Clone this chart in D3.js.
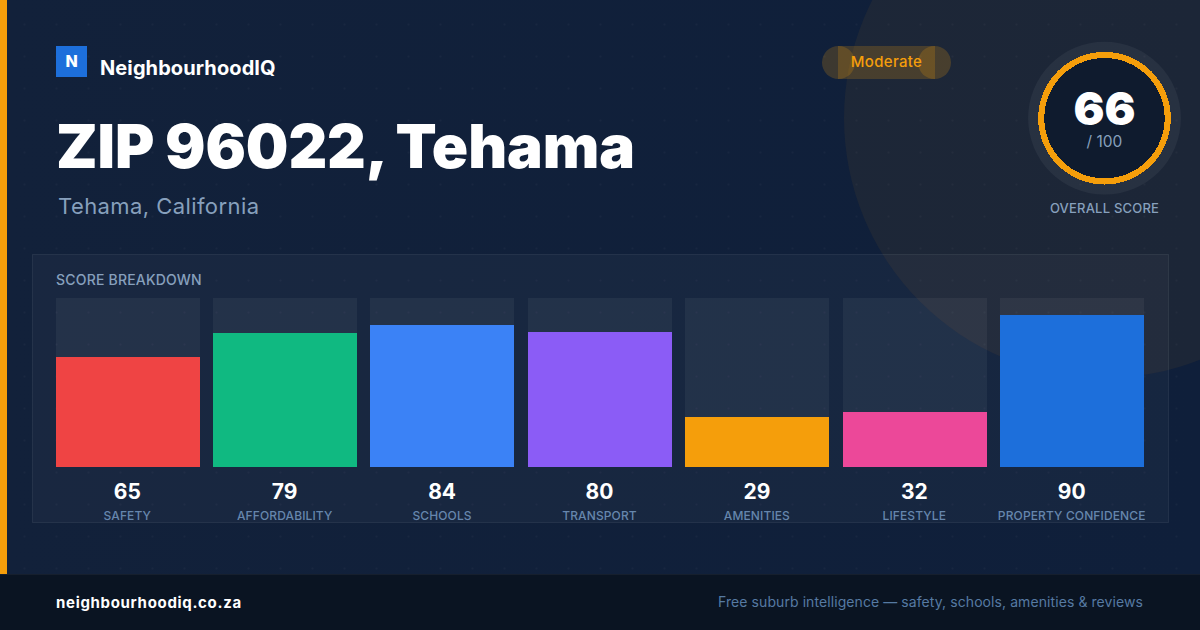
<!DOCTYPE html>
<html>
<head>
<meta charset="utf-8">
<script src="https://cdn.jsdelivr.net/npm/d3@7"></script>
<style>
html, body { margin: 0; padding: 0; background: #11203a; overflow: hidden; }
svg { display: block; font-family: Inter, sans-serif; }
</style>
</head>
<body>
<svg id="card" width="1200" height="630"></svg>
<script>
var categories = ["SAFETY", "AFFORDABILITY", "SCHOOLS", "TRANSPORT", "AMENITIES", "LIFESTYLE", "PROPERTY CONFIDENCE"];
// bars read a little above the rounded label on amenities and lifestyle
var scores = [65, 79, 84, 80, 29.4, 32.4, 90];
var barColors = ["#ef4444", "#10b981", "#3b82f6", "#8b5cf6", "#f59e0b", "#ec4899", "#1d6fdb"];
var overallScore = 66;
var amber = "#f59e0b";
var mutedText = "#87a0bd";
var labelText = "#6686ad";

var svg = d3.select("#card");

// background
var defs = svg.append("defs");
var grad = defs.append("linearGradient").attr("id", "bg")
    .attr("x1", 0).attr("y1", 0).attr("x2", 1).attr("y2", 0);
grad.append("stop").attr("offset", "0%").attr("stop-color", "#12213a");
grad.append("stop").attr("offset", "100%").attr("stop-color", "#0f1f3a");
var dots = defs.append("pattern").attr("id", "dots").attr("patternUnits", "userSpaceOnUse")
    .attr("x", 0).attr("y", 0).attr("width", 32).attr("height", 32);
dots.append("circle").attr("cx", 24.5).attr("cy", 24.5).attr("r", 1).attr("fill", "#fff").attr("fill-opacity", 0.03);

svg.append("rect").attr("width", 1200).attr("height", 630).attr("fill", "url(#bg)");
svg.append("circle").attr("cx", 1104).attr("cy", 118).attr("r", 260).attr("fill", amber).attr("fill-opacity", 0.06);
svg.append("rect").attr("width", 1200).attr("height", 630).attr("fill", "url(#dots)");
svg.append("rect").attr("width", 7).attr("height", 574).attr("fill", amber);

// header
svg.append("rect").attr("x", 56).attr("y", 46).attr("width", 31).attr("height", 31).attr("fill", "#1d6fdb");
svg.append("text").attr("x", 71.5).attr("y", 67).attr("text-anchor", "middle")
    .attr("font-size", 16).attr("font-weight", 800).attr("fill", "#fff").text("N");
svg.append("text").attr("x", 100).attr("y", 75)
    .attr("font-size", 20).attr("font-weight", 700).attr("letter-spacing", 0.1).attr("fill", "#fff").text("NeighbourhoodIQ");
svg.append("text").attr("x", 56).attr("y", 168)
    .attr("font-size", 60).attr("font-weight", 900).attr("letter-spacing", -0.07).attr("word-spacing", -1.2)
    .attr("fill", "#fff").text("ZIP 96022, Tehama");
svg.append("text").attr("x", 58).attr("y", 214)
    .attr("font-size", 22).attr("letter-spacing", 0.42).attr("fill", mutedText).text("Tehama, California");

// rating pill, drawn in three overlapping pieces
var pill = svg.append("g").attr("fill", amber).attr("fill-opacity", 0.2);
pill.append("rect").attr("x", 838).attr("y", 46).attr("width", 97).attr("height", 33);
pill.append("circle").attr("cx", 838.5).attr("cy", 62.5).attr("r", 16.5);
pill.append("circle").attr("cx", 934.5).attr("cy", 62.5).attr("r", 16.5);
svg.append("text").attr("x", 886.5).attr("y", 67).attr("text-anchor", "middle")
    .attr("font-size", 15).attr("font-weight", 500).attr("letter-spacing", 0.3).attr("fill", amber).text("Moderate");

// overall ring
var ring = svg.append("g").attr("transform", "translate(1104.5,118.2)");
ring.append("circle").attr("r", 76.4).attr("fill", "#fff").attr("fill-opacity", 0.05);
ring.append("circle").attr("r", 66.3).attr("fill", amber).attr("shape-rendering", "crispEdges");
ring.append("circle").attr("r", 60.2).attr("fill", "#0f1b2e").attr("shape-rendering", "crispEdges");
ring.append("text").attr("y", 7).attr("text-anchor", "middle")
    .attr("font-size", 46).attr("font-weight", 900).attr("fill", "#fff").text(overallScore);
ring.append("text").attr("y", 29).attr("text-anchor", "middle")
    .attr("font-size", 15.5).attr("fill", mutedText).text("/ 100");
svg.append("text").attr("x", 1104.5).attr("y", 213).attr("text-anchor", "middle")
    .attr("font-size", 13).attr("font-weight", 500).attr("letter-spacing", 0.2).attr("fill", mutedText).text("OVERALL SCORE");

// breakdown panel
svg.append("rect").attr("x", 32.5).attr("y", 254.5).attr("width", 1136).attr("height", 268)
    .attr("fill", "#fff").attr("fill-opacity", 0.03)
    .attr("stroke", "#fff").attr("stroke-opacity", 0.07);
svg.append("text").attr("x", 56).attr("y", 285)
    .attr("font-size", 14).attr("font-weight", 500).attr("letter-spacing", 0.2).attr("fill", mutedText).text("SCORE BREAKDOWN");

var x = d3.scaleBand().domain(categories).range([55.6, 1144]).paddingInner(13.4 / 157.4);
var y = d3.scaleLinear().domain([0, 100]).range([467, 298]);
var barX = function (d) { return Math.round(x(d)); };
var midX = function (d) { return x(d) + x.bandwidth() / 2 - 0.3; };

var cols = svg.selectAll("g.col").data(categories).join("g").attr("class", "col");
cols.append("rect").attr("x", barX).attr("y", y(100))
    .attr("width", 144).attr("height", y(0) - y(100))
    .attr("fill", "#fff").attr("fill-opacity", 0.05);
cols.append("rect").attr("x", barX)
    .attr("y", function (d, i) { return Math.round(y(scores[i])); })
    .attr("width", 144)
    .attr("height", function (d, i) { return y(0) - Math.round(y(scores[i])); })
    .attr("fill", function (d, i) { return barColors[i]; });
cols.append("text").attr("x", midX).attr("y", 499)
    .attr("text-anchor", "middle").attr("font-size", 21).attr("font-weight", 700).attr("fill", "#fff")
    .text(function (d, i) { return d3.format(".0f")(scores[i]); });
cols.append("text").attr("x", midX).attr("y", 520)
    .attr("text-anchor", "middle").attr("font-size", 12).attr("font-weight", 500)
    .attr("letter-spacing", 0.12).attr("fill", labelText)
    .text(function (d) { return d; });

// footer
svg.append("rect").attr("y", 574).attr("width", 1200).attr("height", 56).attr("fill", "#0a1422");
svg.append("rect").attr("y", 574).attr("width", 1200).attr("height", 1).attr("fill", "#fff").attr("fill-opacity", 0.05);
svg.append("text").attr("x", 56).attr("y", 608)
    .attr("font-size", 15).attr("font-weight", 700).attr("letter-spacing", 0.68).attr("fill", "#fff").text("neighbourhoodiq.co.za");
svg.append("text").attr("x", 1143).attr("y", 607).attr("text-anchor", "end")
    .attr("font-size", 14).attr("letter-spacing", 0.08).attr("fill", "#567aa2").text("Free suburb intelligence — safety, schools, amenities & reviews");
</script>
</body>
</html>
